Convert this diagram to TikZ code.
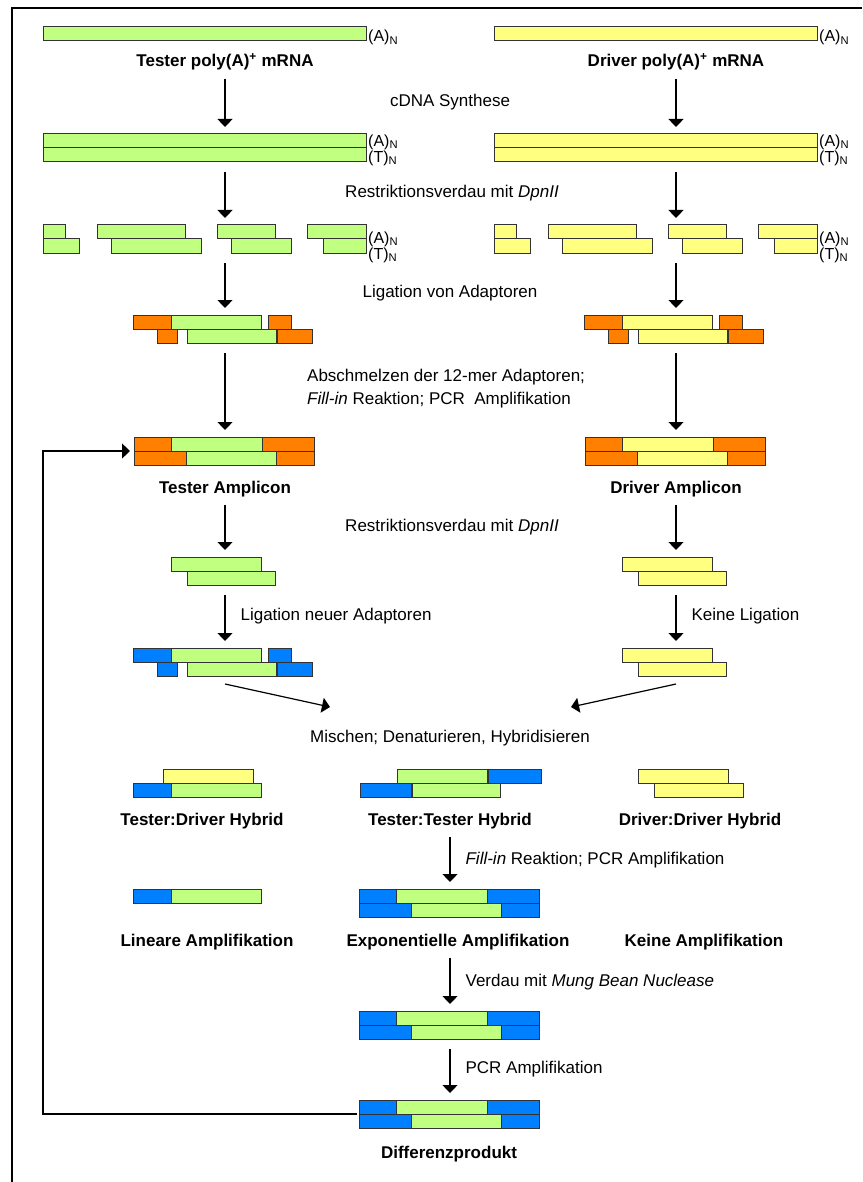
\documentclass[tikz,border=0pt]{standalone}
\usepackage{fontspec}
\setmainfont{Liberation Sans}
\usepackage{xcolor}
\usepackage{tikz}
\usetikzlibrary{arrows.meta}
\usetikzlibrary{positioning}

\definecolor{insgreen}{RGB}{192,255,128}
\definecolor{drvyellow}{RGB}{255,255,128}
\definecolor{adorange}{RGB}{255,128,0}
\definecolor{adblue}{RGB}{0,128,255}

% one strand piece: colour, left, right, row (1 upper, 2 lower)
\newcommand{\dnaseg}[4]{\draw[seg, fill=#1] (#2,{(#4-2)*14}) rectangle (#3,{(#4-1)*14});}
\newcommand{\ligated}[2]{%
  \dnaseg{#2}{-92}{-54}{1}\dnaseg{#1}{-54}{36}{1}\dnaseg{#2}{43}{66}{1}%
  \dnaseg{#2}{-68}{-48}{2}\dnaseg{#1}{-38}{51}{2}\dnaseg{#2}{52}{87}{2}}
\newcommand{\amplicon}[2]{%
  \dnaseg{#2}{-91}{-54}{1}\dnaseg{#1}{-54}{37}{1}\dnaseg{#2}{37}{89}{1}%
  \dnaseg{#2}{-91}{-39}{2}\dnaseg{#1}{-39}{51}{2}\dnaseg{#2}{51}{89}{2}}
\newcommand{\cutpair}[1]{\dnaseg{#1}{-54}{36}{1}\dnaseg{#1}{-38}{50}{2}}
\newcommand{\fragments}[1]{%
  \dnaseg{#1}{-182}{-160}{1}\dnaseg{#1}{-182}{-146}{2}%
  \dnaseg{#1}{-128}{-40}{1}\dnaseg{#1}{-114}{-24}{2}%
  \dnaseg{#1}{-8}{50}{1}\dnaseg{#1}{6}{66}{2}%
  \dnaseg{#1}{82}{141}{1}\dnaseg{#1}{98}{141}{2}}
\newcommand{\molat}[4]{\node[mol] (#1) at (#2,#3) {};
  \begin{scope}[shift={(#1.center)}]#4\end{scope}}

\begin{document}
\begin{tikzpicture}[x=1pt, y=-1pt, >={Triangle[width=15pt,length=8pt]},
    every node/.style={font=\fontsize{17}{20}\selectfont, inner sep=3pt},
    seg/.style={draw=black!80, line width=1pt},
    mol/.style={inner sep=0pt, outer sep=0pt, minimum height=28pt},
    title/.style={font=\fontsize{17}{20}\selectfont\bfseries, anchor=base},
    note/.style={anchor=base},
    tail/.style={font=\fontsize{16}{13}\selectfont, anchor=base west, inner sep=1pt},
    tails/.style={tail, anchor=west, align=left},
    arr/.style={->, line width=1.2pt, shorten <=10pt, shorten >=7pt}]

  \useasboundingbox (0,0) rectangle (862,1182);
  \draw[line width=2.6pt] (12,1182) -- (12,8) -- (862,8);

  \molat{tmrna}{225}{41}{\dnaseg{insgreen}{-182}{141}{1}}
  \molat{dmrna}{676}{41}{\dnaseg{drvyellow}{-182}{141}{1}}
  \molat{tds}{225}{148}{\dnaseg{insgreen}{-182}{141}{1}\dnaseg{insgreen}{-182}{141}{2}}
  \molat{dds}{676}{148}{\dnaseg{drvyellow}{-182}{141}{1}\dnaseg{drvyellow}{-182}{141}{2}}
  \molat{tfrag}{225}{239}{\fragments{insgreen}}
  \molat{dfrag}{676}{239}{\fragments{drvyellow}}
  \molat{tlig}{225}{329}{\ligated{insgreen}{adorange}}
  \molat{dlig}{676}{329}{\ligated{drvyellow}{adorange}}
  \molat{tamp}{225}{451}{\amplicon{insgreen}{adorange}}
  \molat{damp}{676}{451}{\amplicon{drvyellow}{adorange}}
  \molat{tcut}{225}{571}{\cutpair{insgreen}}
  \molat{dcut}{676}{571}{\cutpair{drvyellow}}
  \molat{tblue}{225}{662}{\ligated{insgreen}{adblue}}
  \molat{dkeep}{676}{662}{\cutpair{drvyellow}}
  \molat{tdhyb}{225}{783}{\dnaseg{drvyellow}{-62}{28}{1}\dnaseg{adblue}{-92}{-54}{2}\dnaseg{insgreen}{-54}{36}{2}}
  \molat{tthyb}{450}{783}{\dnaseg{insgreen}{-53}{37}{1}\dnaseg{adblue}{38}{91}{1}\dnaseg{adblue}{-90}{-39}{2}\dnaseg{insgreen}{-38}{50}{2}}
  \molat{ddhyb}{690}{783}{\dnaseg{drvyellow}{-52}{38}{1}\dnaseg{drvyellow}{-36}{53}{2}}
  \molat{linear}{225}{903}{\dnaseg{adblue}{-92}{-54}{1}\dnaseg{insgreen}{-54}{36}{1}}
  \molat{expo}{450}{903}{\amplicon{insgreen}{adblue}}
  \molat{mung}{450}{1025}{\amplicon{insgreen}{adblue}}
  \molat{diff}{450}{1114}{\amplicon{insgreen}{adblue}}
  \node[mol, minimum width=184pt] (tampbox) at (tamp) {};
  \node[mol, minimum width=180pt] (diffbox) at (diff) {};

  \node[tail]  (tmrnaA) at (367,42)  {(A)\textsubscript{N}};
  \node[tail]  (dmrnaA) at (818,42)  {(A)\textsubscript{N}};
  \node[tails] (tdsAT)  at (367,150) {(A)\textsubscript{N}\\(T)\textsubscript{N}};
  \node[tails] (ddsAT)  at (818,150) {(A)\textsubscript{N}\\(T)\textsubscript{N}};
  \node[tails] (tfragAT) at (367,247) {(A)\textsubscript{N}\\(T)\textsubscript{N}};
  \node[tails] (dfragAT) at (818,247) {(A)\textsubscript{N}\\(T)\textsubscript{N}};

  \node[title] (tmrnalab) at (225,67)   {Tester poly(A)\textsuperscript{+} mRNA};
  \node[title] (dmrnalab) at (676,67)   {Driver poly(A)\textsuperscript{+} mRNA};
  \node[title] (tamplab)  at (225,493)  {Tester Amplicon};
  \node[title] (damplab)  at (676,493)  {Driver Amplicon};
  \node[title] (tdlab)    at (202,825)  {Tester:Driver Hybrid};
  \node[title] (ttlab)    at (450,825)  {Tester:Tester Hybrid};
  \node[title] (ddlab)    at (700,825)  {Driver:Driver Hybrid};
  \node[title] (linlab)   at (207,946)  {Lineare Amplifikation};
  \node[title] (expolab)  at (458,946)  {Exponentielle Amplifikation};
  \node[title] (nonelab)  at (704,946)  {Keine Amplifikation};
  \node[title] (difflab)  at (449,1158) {Differenzprodukt};

  \node[note] (cdna)    at (450,107) {cDNA Synthese};
  \node[note] (digest1) at (452,198) {Restriktionsverdau mit \textit{DpnII}};
  \node[note] (ligate1) at (450,297) {Ligation von Adaptoren};
  \node[note, anchor=base west] (melt)  at (304,381) {Abschmelzen der 12-mer Adaptoren;};
  \node[note, anchor=base west] (fill1) at (304,404) {\textit{Fill-in} Reaktion; PCR\ \ Amplifikation};
  \node[note] (digest2) at (452,531) {Restriktionsverdau mit \textit{DpnII}};
  \node[note] (mixlab)  at (450,742) {Mischen; Denaturieren, Hybridisieren};

  \coordinate (mixL) at (330,707);
  \coordinate (mixR) at (571,707);
  \coordinate (loop) at (43,1114);

  \path[arr]
    (tmrnalab) edge [shorten <=5pt] (tds)
    (dmrnalab) edge [shorten <=5pt] (dds)
    (tds)      edge                 (tfrag)
    (dds)      edge                 (dfrag)
    (tfrag)    edge                 (tlig)
    (dfrag)    edge                 (dlig)
    (tlig)     edge                 (tamp)
    (dlig)     edge                 (damp)
    (tamplab)  edge [shorten <=5pt] (tcut)
    (damplab)  edge [shorten <=5pt] (dcut)
    (tcut)     edge node[right=12pt] {Ligation neuer Adaptoren} (tblue)
    (dcut)     edge node[right=12pt] {Keine Ligation}           (dkeep)
    ([yshift=-8pt]tblue.south) edge [shorten <=0pt, shorten >=0pt] (mixL)
    ([yshift=-8pt]dkeep.south) edge [shorten <=0pt, shorten >=0pt] (mixR)
    (ttlab)    edge [shorten <=5pt] node[right=12pt] {\textit{Fill-in} Reaktion; PCR Amplifikation} (expo)
    (expolab.south -| mung.north) edge [shorten <=5pt] node[right=12pt] {Verdau mit \textit{Mung Bean Nuclease}} (mung)
    (mung)     edge node[right=12pt] {PCR Amplifikation} (diff);

  \draw[arr, shorten <=3pt, shorten >=3pt] (diffbox.west) -- (loop) |- (tampbox.west);

\end{tikzpicture}
\end{document}
